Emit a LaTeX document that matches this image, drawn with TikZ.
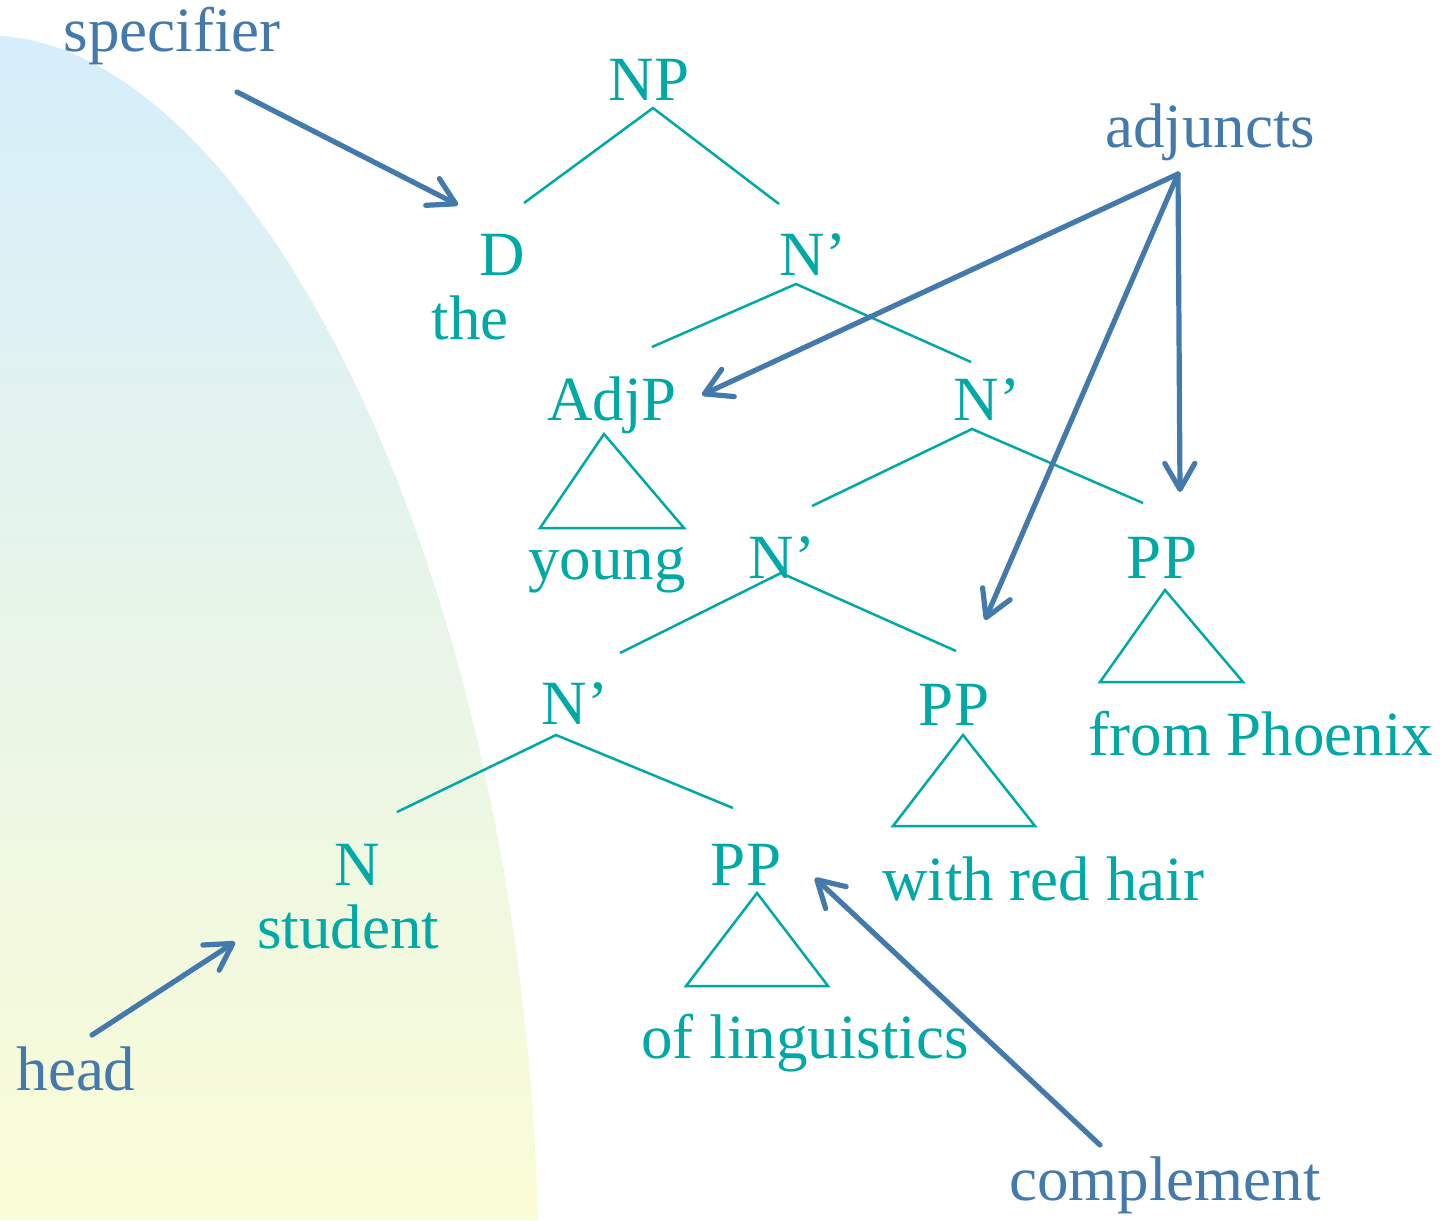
\documentclass[tikz,border=0pt]{standalone}
\usepackage{fontspec}
\setmainfont{Liberation Serif}
\usetikzlibrary{arrows.meta}
\definecolor{treecol}{RGB}{0,168,166}
\definecolor{anncol}{RGB}{68,121,171}
\definecolor{bgtop}{RGB}{214,238,251}
\definecolor{bgbot}{RGB}{250,252,214}
\tikzset{
  cat/.style={text=treecol, font=\fontsize{31.5}{36}\selectfont, anchor=base, inner sep=0pt},
  ann/.style={text=anncol, font=\fontsize{31.5}{36}\selectfont, anchor=base, inner sep=0pt},
  branch/.style={draw=treecol, line width=1.25pt},
  tri/.style={draw=treecol, line width=1.25pt, line join=miter},
  pointer/.style={draw=anncol, line width=2.6pt, line cap=round,
    -{Straight Barb[length=13pt,width=15pt,round]}}
}
\begin{document}
\begin{tikzpicture}[x=0.5pt,y=-0.5pt]
\useasboundingbox (0,0) rectangle (1443,1220);
% background shape
\shade[top color=bgtop, bottom color=bgbot]
  (0,36) .. controls (250,50) and (520,560) .. (538,1220) -- (0,1220) -- cycle;

% tree labels
\node[cat] (np) at (649,100) {NP};
\node[cat] (d) at (502,275) {D};
\node[cat] (the) at (470,339) {the};
\node[cat] (nb1) at (813,275) {N’};
\node[cat] (adjp) at (612,420) {AdjP};
\node[cat] (young) at (607,579) {young};
\node[cat] (nb2) at (987,420) {N’};
\node[cat] (pp3) at (1162,578) {PP};
\node[cat] (phoenix) at (1261,755) {from Phoenix};
\node[cat] (nb3) at (782,578) {N’};
\node[cat] (pp2) at (954,725) {PP};
\node[cat] (redhair) at (1043,900) {with red hair};
\node[cat] (nb4) at (575,724) {N’};
\node[cat] (n) at (357,885) {N};
\node[cat] (student) at (348,948) {student};
\node[cat] (pp1) at (746,885) {PP};
\node[cat] (ling) at (805,1058) {of linguistics};

% annotations
\node[ann] (spec) at (172,52) {specifier};
\node[ann] (adj) at (1210,148) {adjuncts};
\node[ann] (head) at (76,1090) {head};
\node[ann] (comp) at (1165,1200) {complement};

% branch coordinates
\coordinate (np-t) at (653,108); \coordinate (np-l) at (524,203); \coordinate (np-r) at (779,204);
\coordinate (nb1-t) at (796,284); \coordinate (nb1-l) at (652,347); \coordinate (nb1-r) at (971,362);
\coordinate (nb2-t) at (972,429); \coordinate (nb2-l) at (812,506); \coordinate (nb2-r) at (1143,503);
\coordinate (nb3-t) at (781,573); \coordinate (nb3-l) at (620,653); \coordinate (nb3-r) at (956,651);
\coordinate (nb4-t) at (556,735); \coordinate (nb4-l) at (397,812); \coordinate (nb4-r) at (733,808);

\draw[branch] (np-l) -- (np-t) -- (np-r);
\draw[branch] (nb1-l) -- (nb1-t) -- (nb1-r);
\draw[branch] (nb2-l) -- (nb2-t) -- (nb2-r);
\draw[branch] (nb3-l) -- (nb3-t) -- (nb3-r);
\draw[branch] (nb4-l) -- (nb4-t) -- (nb4-r);

% triangles
\draw[tri] (604,434) -- (684,528) -- (540,528) -- cycle;
\draw[tri] (1165,590) -- (1243,682) -- (1100,682) -- cycle;
\draw[tri] (963,735) -- (1035,826) -- (893,826) -- cycle;
\draw[tri] (757,893) -- (828,986) -- (686,986) -- cycle;

% pointer coordinates
\coordinate (spec-s) at (237,92); \coordinate (spec-e) at (458,205);
\coordinate (adj-s) at (1178,174);
\coordinate (adj-e1) at (702,395); \coordinate (adj-e2) at (985,620); \coordinate (adj-e3) at (1180,492);
\coordinate (head-s) at (92,1035); \coordinate (head-e) at (235,942);
\coordinate (comp-s) at (1100,1145); \coordinate (comp-e) at (815,878);

\draw[pointer] (spec-s) -- (spec-e);
\draw[pointer] (adj-s) -- (adj-e1);
\draw[pointer] (adj-s) -- (adj-e2);
\draw[pointer] (adj-s) -- (adj-e3);
\draw[pointer] (head-s) -- (head-e);
\draw[pointer] (comp-s) -- (comp-e);
\end{tikzpicture}
\end{document}
